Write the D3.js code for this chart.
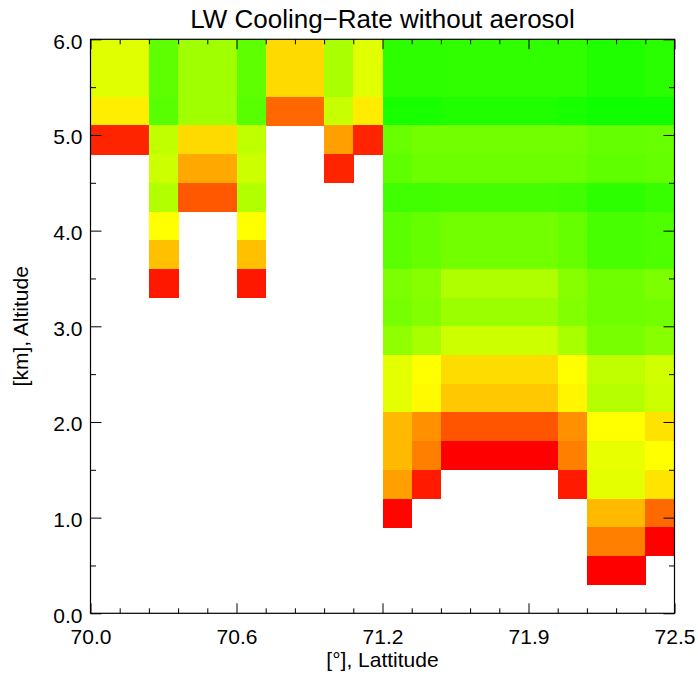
<!DOCTYPE html>
<html>
<head>
<meta charset="utf-8">
<script src="https://cdn.jsdelivr.net/npm/d3@7"></script>
<style>
  html, body { margin: 0; padding: 0; background: #fff; }
  svg { display: block; }
  text { font-family: "Liberation Sans", Arial, Helvetica, sans-serif; fill: #000; }
</style>
</head>
<body>
<svg id="chart" width="698" height="676"></svg>
<script>
// ---- data ----
const title = "LW Cooling\u2212Rate without aerosol";
const xLabel = "[\u00b0], Lattitude";
const yLabel = "[km], Altitude";

// cell left edges (latitude, deg) and bottom edges (altitude, km, top row first)
const latitudes = [70.000, 70.125, 70.250, 70.375, 70.500, 70.625, 70.750, 70.875, 71.000, 71.125,
                   71.250, 71.375, 71.500, 71.625, 71.750, 71.875, 72.000, 72.125, 72.250, 72.375];
const altitudes = [5.7, 5.4, 5.1, 4.8, 4.5, 4.2, 3.9, 3.6, 3.3, 3.0,
                   2.7, 2.4, 2.1, 1.8, 1.5, 1.2, 0.9, 0.6, 0.3, 0.0];
const cellWidth = 0.125;
const cellHeight = 0.3;

// cooling-rate level per cell (rows top -> bottom, columns west -> east); null = no data
const _ = null;
const coolingRate = [
  [286,286,416,350,350,416,218,218,340,286,464,464,462,462,462,462,462,478,478,468],
  [286,286,416,350,350,416,218,218,340,286,464,464,462,462,462,462,462,478,478,468],
  [238,238,422,350,350,422,104,104,310,236,486,486,478,478,478,478,486,494,494,494],
  [ 36, 36,318,218,218,318,  _,  _,160, 36,406,396,396,396,396,396,396,410,410,406],
  [  _,  _,306,168,168,306,  _,  _, 36,  _,414,402,402,402,402,402,402,414,414,410],
  [  _,  _,332, 88, 88,332,  _,  _,  _,  _,446,444,442,442,442,442,446,466,466,454],
  [  _,  _,255,  _,  _,255,  _,  _,  _,  _,418,408,396,396,396,396,408,438,438,432],
  [  _,  _,192,  _,  _,192,  _,  _,  _,  _,418,408,396,396,396,396,408,438,438,432],
  [  _,  _, 24,  _,  _, 24,  _,  _,  _,  _,386,374,334,334,334,334,374,398,398,386],
  [  _,  _,  _,  _,  _,  _,  _,  _,  _,  _,392,380,354,354,354,354,380,400,400,396],
  [  _,  _,  _,  _,  _,  _,  _,  _,  _,  _,366,342,306,306,306,306,342,390,390,374],
  [  _,  _,  _,  _,  _,  _,  _,  _,  _,  _,282,255,220,220,220,220,255,318,318,302],
  [  _,  _,  _,  _,  _,  _,  _,  _,  _,  _,282,250,200,200,200,200,246,328,328,306],
  [  _,  _,  _,  _,  _,  _,  _,  _,  _,  _,186,144, 85, 85, 85, 85,144,255,255,226],
  [  _,  _,  _,  _,  _,  _,  _,  _,  _,  _,186,128,  0,  0,  0,  0,128,278,278,255],
  [  _,  _,  _,  _,  _,  _,  _,  _,  _,  _,160, 26,  _,  _,  _,  _, 26,282,282,228],
  [  _,  _,  _,  _,  _,  _,  _,  _,  _,  _,  5,  _,  _,  _,  _,  _,  _,186,186,106],
  [  _,  _,  _,  _,  _,  _,  _,  _,  _,  _,  _,  _,  _,  _,  _,  _,  _,128,128,  0],
  [  _,  _,  _,  _,  _,  _,  _,  _,  _,  _,  _,  _,  _,  _,  _,  _,  _,  0,  0,  _],
  [  _,  _,  _,  _,  _,  _,  _,  _,  _,  _,  _,  _,  _,  _,  _,  _,  _,  _,  _,  _]
];

const colorStops = [0, 255, 510];
const colorRange = ["#ff0000", "#ffff00", "#00ff00"];

const xDomain = [70.0, 72.5];
const yDomain = [0.0, 6.0];
const xMajorTicks = [70.0, 70.625, 71.25, 71.875, 72.5];
const xTickLabels = ["70.0", "70.6", "71.2", "71.9", "72.5"];
const xMinorTicks = [70.125, 70.25, 70.375, 70.5, 70.75, 70.875, 71.0, 71.125,
                     71.375, 71.5, 71.625, 71.75, 72.0, 72.125, 72.25, 72.375];
const yMajorTicks = [0, 1, 2, 3, 4, 5, 6];
const yTickLabels = ["0.0", "1.0", "2.0", "3.0", "4.0", "5.0", "6.0"];
const yMinorTicks = [0.5, 1.5, 2.5, 3.5, 4.5, 5.5];

// ---- layout ----
const svg = d3.select("#chart");
const L = 90.5, T = 39.3, W = 584, H = 574;

const x = d3.scaleLinear().domain(xDomain).range([L, L + W]);
const y = d3.scaleLinear().domain(yDomain).range([T + H, T]);
const color = d3.scaleLinear().domain(colorStops).range(colorRange);

// cells
const cells = [];
coolingRate.forEach((row, r) => row.forEach((v, c) => {
  if (v !== null) cells.push({ lat: latitudes[c], alt: altitudes[r], v });
}));

svg.append("g")
  .attr("shape-rendering", "crispEdges")
  .selectAll("rect")
  .data(cells)
  .join("rect")
  .attr("x", d => x(d.lat))
  .attr("y", d => y(d.alt + cellHeight))
  .attr("width", d => x(d.lat + cellWidth) - x(d.lat) + 0.5)
  .attr("height", d => y(d.alt) - y(d.alt + cellHeight) + 0.5)
  .attr("fill", d => color(d.v));

// axes (inward ticks)
function styleAxis(g) {
  g.select(".domain").remove();
  g.selectAll(".tick line").attr("stroke", "#000").attr("stroke-width", 1);
  g.selectAll("text").style("font-size", "21px").attr("fill", "#000");
}

const labX = d3.scaleOrdinal().domain(xMajorTicks).range(xTickLabels);
const labY = d3.scaleOrdinal().domain(yMajorTicks).range(yTickLabels);

svg.append("g").attr("transform", `translate(0,${T + H})`)
  .call(d3.axisBottom(x).tickValues(xMajorTicks).tickSizeInner(-10).tickSizeOuter(0)
        .tickPadding(15.5).tickFormat(d => labX(d)))
  .call(styleAxis);
svg.append("g").attr("transform", `translate(0,${T + H})`)
  .call(d3.axisBottom(x).tickValues(xMinorTicks).tickSizeInner(-5).tickSizeOuter(0).tickFormat(""))
  .call(styleAxis);
svg.append("g").attr("transform", `translate(0,${T})`)
  .call(d3.axisTop(x).tickValues(xMajorTicks).tickSizeInner(-10).tickSizeOuter(0).tickFormat(""))
  .call(styleAxis);
svg.append("g").attr("transform", `translate(0,${T})`)
  .call(d3.axisTop(x).tickValues(xMinorTicks).tickSizeInner(-5).tickSizeOuter(0).tickFormat(""))
  .call(styleAxis);

const yl = svg.append("g").attr("transform", `translate(${L},0)`)
  .call(d3.axisLeft(y).tickValues(yMajorTicks).tickSizeInner(-11).tickSizeOuter(0)
        .tickPadding(8).tickFormat(d => labY(d)))
  .call(styleAxis);
yl.selectAll("text").attr("dy", "0.42em");
svg.append("g").attr("transform", `translate(${L},0)`)
  .call(d3.axisLeft(y).tickValues(yMinorTicks).tickSizeInner(-5.5).tickSizeOuter(0).tickFormat(""))
  .call(styleAxis);
svg.append("g").attr("transform", `translate(${L + W},0)`)
  .call(d3.axisRight(y).tickValues(yMajorTicks).tickSizeInner(-11).tickSizeOuter(0).tickFormat(""))
  .call(styleAxis);
svg.append("g").attr("transform", `translate(${L + W},0)`)
  .call(d3.axisRight(y).tickValues(yMinorTicks).tickSizeInner(-5.5).tickSizeOuter(0).tickFormat(""))
  .call(styleAxis);

// frame
svg.append("rect")
  .attr("x", L).attr("y", T).attr("width", W).attr("height", H)
  .attr("fill", "none").attr("stroke", "#000").attr("stroke-width", 1.2);

// titles
svg.append("text")
  .attr("x", L + W / 2).attr("y", 28)
  .attr("text-anchor", "middle")
  .style("font-size", "26px")
  .text(title);

svg.append("text")
  .attr("x", L + W / 2).attr("y", 667)
  .attr("text-anchor", "middle")
  .style("font-size", "21px")
  .text(xLabel);

svg.append("text")
  .attr("transform", `translate(28,${T + H / 2}) rotate(-90)`)
  .attr("text-anchor", "middle")
  .style("font-size", "21px")
  .text(yLabel);
</script>
</body>
</html>
